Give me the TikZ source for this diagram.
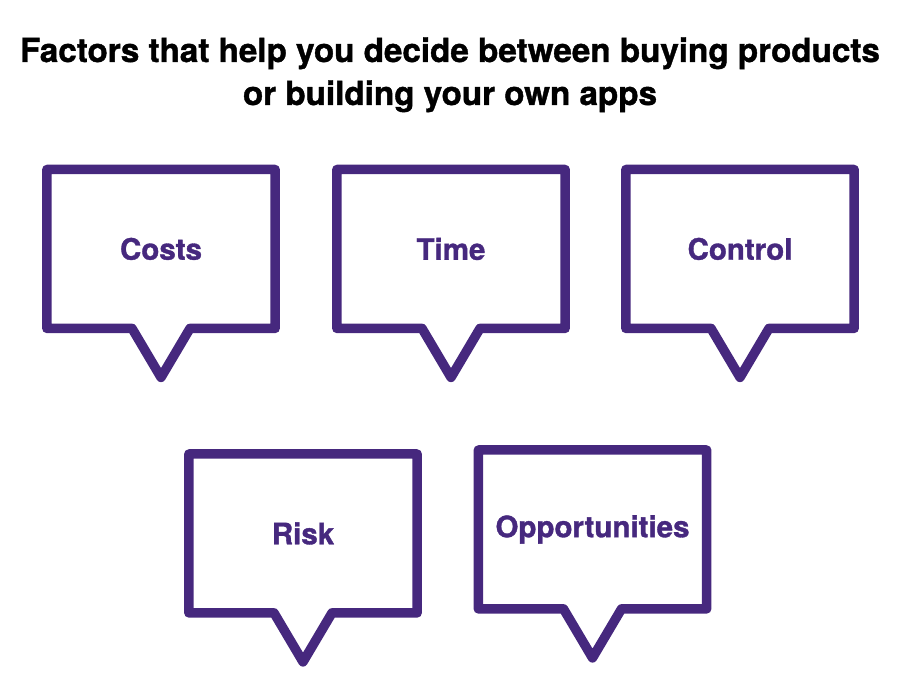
\documentclass[tikz,border=0pt]{standalone}
\usepackage{fontspec}
\setmainfont{TeX Gyre Heros}[BoldFeatures={FakeBold=1.2}]
\usetikzlibrary{calc}
\definecolor{bubcol}{RGB}{70,40,126}
\tikzset{
  bub/.style={draw=bubcol, line width=9.5pt, line join=round, line cap=round},
  bubtext/.style={inner sep=0pt, text=bubcol, font=\fontsize{29.5}{34}\selectfont\bfseries},
  titletext/.style={inner sep=0pt, text=black, font=\fontsize{33.2}{38}\selectfont\bfseries},
}
\newcommand\mybubble[4]{%
  \node[minimum width=228pt, minimum height=158.5pt, inner sep=0pt, anchor=north] (#1) at (#2,#3) {};
  \node[bubtext] (#1t) at (#1.center) {#4};
  \draw[bub] (#1.north west) -- (#1.north east) -- (#1.south east)
    -- ($(#1.south)+(29pt,0)$) -- ($(#1.south)+(0,-49pt)$) -- ($(#1.south)+(-29pt,0)$)
    -- (#1.south west) -- cycle;
}
\begin{document}
\begin{tikzpicture}[x=1pt,y=-1pt]
\useasboundingbox (0,0) rectangle (900,700);
\node[titletext, anchor=base] (title1) at (450,62) {Factors that help you decide between buying products};
\node[titletext, anchor=base] (title2) at (450,105) {or building your own apps};
\mybubble{b1}{161}{169.5}{Costs}
\mybubble{b2}{451}{169.5}{Time}
\mybubble{b3}{740}{169.5}{Control}
\mybubble{b4}{303}{454}{Risk}
\mybubble{b5}{592.5}{450}{Opportunities}
\end{tikzpicture}
\end{document}
